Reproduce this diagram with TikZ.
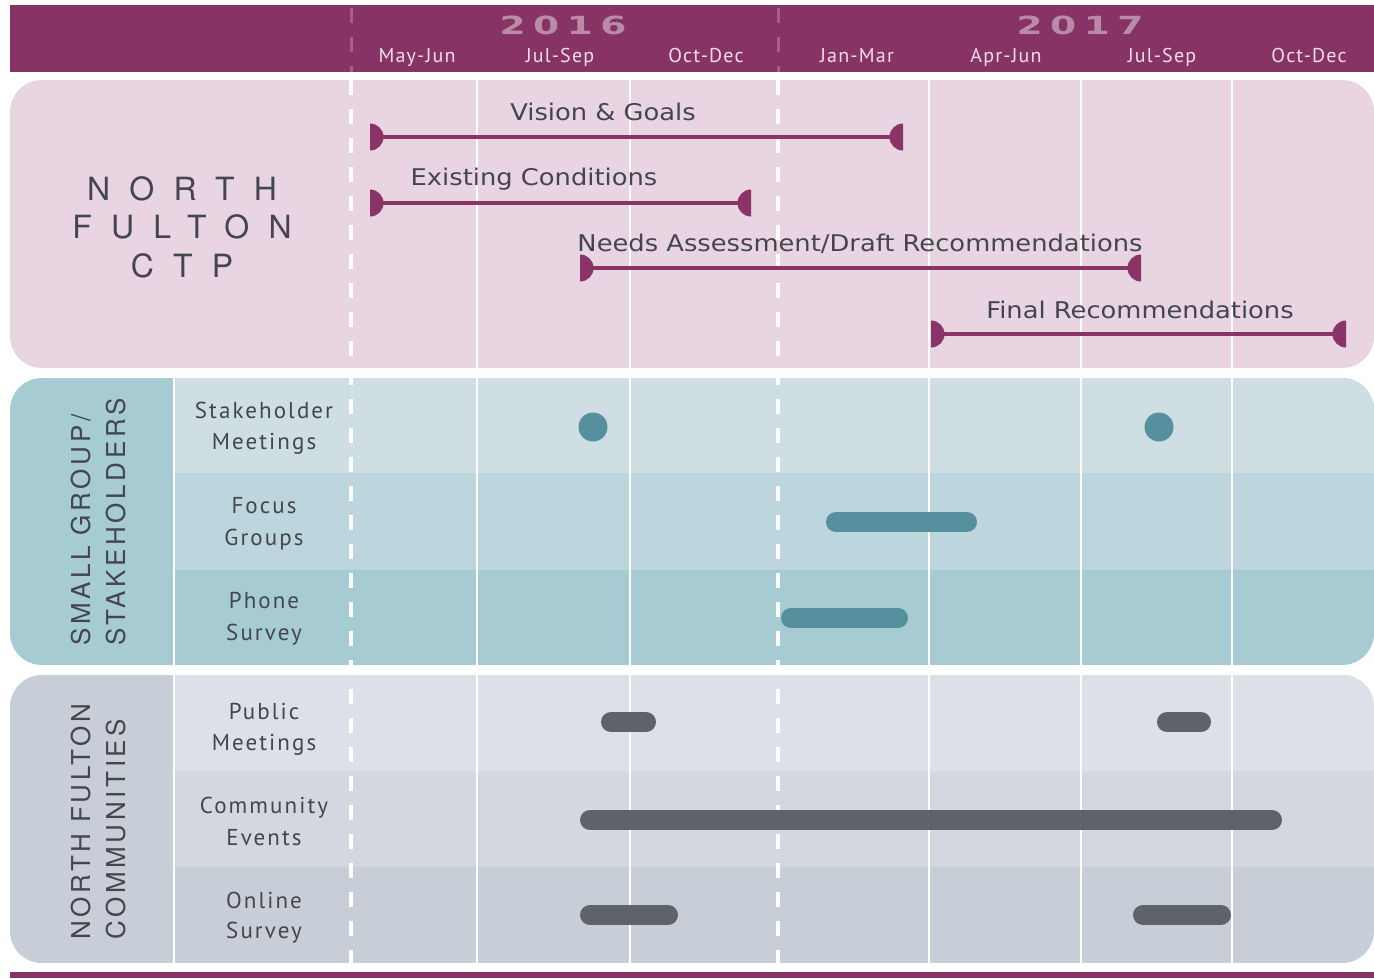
\documentclass[tikz,border=0pt]{standalone}
\usepackage{fontspec}
\setmainfont{TeX Gyre Heros}
\newfontfamily\widefont[FakeStretch=1.12]{DejaVu Sans}
\newfontfamily\condfont[LetterSpace=9]{PT Sans}
\newfontfamily\spacedfont[LetterSpace=60]{TeX Gyre Heros}
\newfontfamily\rotfont[LetterSpace=14]{TeX Gyre Heros}
\newfontfamily\yearfont[FakeStretch=1.5,LetterSpace=30]{DejaVu Sans}
\newfontfamily\monthfont[LetterSpace=6]{PT Sans}
\definecolor{header}{HTML}{873366}
\definecolor{yeartxt}{HTML}{B98BA6}
\definecolor{monthtxt}{HTML}{F0DDE8}
\definecolor{hdash}{HTML}{A66088}
\definecolor{pinkbg}{HTML}{E8D5E1}
\definecolor{tealA}{HTML}{CFDEE3}
\definecolor{tealB}{HTML}{BDD5DC}
\definecolor{tealC}{HTML}{A6CBD3}
\definecolor{tealbar}{HTML}{568F9D}
\definecolor{grayA}{HTML}{DDE0E8}
\definecolor{grayB}{HTML}{D3D7DF}
\definecolor{grayC}{HTML}{C8CED7}
\definecolor{graybar}{HTML}{5E626A}
\definecolor{txt}{HTML}{43464E}
\definecolor{gcol}{HTML}{8A3367}
\tikzset{
  gline/.style={draw=gcol,line width=4},
  glabel/.style={anchor=base,inner sep=0,text=txt,font=\widefont\fontsize{23}{23}\selectfont},
  rowlabel/.style={anchor=base,inner sep=0,text=txt,font=\condfont\fontsize{23}{23}\selectfont},
  monthlabel/.style={anchor=base,inner sep=0,text=monthtxt,font=\monthfont\fontsize{20}{20}\selectfont},
  yearlabel/.style={anchor=base,inner sep=0,text=yeartxt,font=\yearfont\bfseries\fontsize{25}{25}\selectfont},
  ctplabel/.style={anchor=base,inner sep=0,text=txt,font=\spacedfont\fontsize{32}{32}\selectfont},
  rotlabel/.style={anchor=base west,inner sep=0,rotate=90,text=txt,font=\rotfont\fontsize{26}{26}\selectfont},
  tbar/.style={draw=tealbar,line width=20,line cap=round},
  gbar/.style={draw=graybar,line width=20,line cap=round},
  thinsep/.style={draw=white,line width=1.6},
  bigdash/.style={draw=white,line width=4,dash pattern=on 15 off 14},
}
\newcommand\ganttbar[3]{%
  \draw[gline] (#1,#3) -- (#2,#3);
  \fill[gcol] (#1,#3+13.5) arc[start angle=90,end angle=-90,radius=13.5] -- cycle;
  \fill[gcol] (#2,#3+13.5) arc[start angle=90,end angle=270,radius=13.5] -- cycle;
}
\begin{document}
\begin{tikzpicture}[x=1pt,y=-1pt]
\useasboundingbox (0,0) rectangle (1374,978);
\fill[white] (0,0) rectangle (1374,978);
% header
\fill[header] (10,5) rectangle (1374,72);
\fill[header] (10,972) rectangle (1374,978);
\draw[draw=hdash,line width=3,dash pattern=on 15 off 14] (351,8) -- (351,72);
\draw[draw=hdash,line width=3,dash pattern=on 15 off 14] (778,8) -- (778,72);
\node[yearlabel] (y16) at (563,34) {2016};
\node[yearlabel] (y17) at (1080,34) {2017};
\node[monthlabel] (m1) at (417,62) {May-Jun};
\node[monthlabel] (m2) at (560,62) {Jul-Sep};
\node[monthlabel] (m3) at (706,62) {Oct-Dec};
\node[monthlabel] (m4) at (857,62) {Jan-Mar};
\node[monthlabel] (m5) at (1006,62) {Apr-Jun};
\node[monthlabel] (m6) at (1162,62) {Jul-Sep};
\node[monthlabel] (m7) at (1309,62) {Oct-Dec};
% pink panel
\fill[pinkbg,rounded corners=32] (10,80) rectangle (1374,368);
% teal panel
\begin{scope}
  \clip[rounded corners=32] (10,378) rectangle (1374,665);
  \fill[tealC] (10,378) rectangle (1374,665);
  \fill[tealA] (174,378) rectangle (1374,473);
  \fill[tealB] (174,473) rectangle (1374,570);
\end{scope}
% gray panel
\begin{scope}
  \clip[rounded corners=32] (10,675) rectangle (1374,963);
  \fill[grayC] (10,675) rectangle (1374,963);
  \fill[grayA] (174,675) rectangle (1374,771);
  \fill[grayB] (174,771) rectangle (1374,867);
\end{scope}
% separators
\draw[draw=white,line width=2.2] (174,378) -- (174,963);
\foreach \xx in {477,630,929,1081,1232} \draw[thinsep] (\xx,80) -- (\xx,963);
\draw[bigdash] (351,80) -- (351,963);
\draw[bigdash] (778,80) -- (778,963);
% titles
\node[ctplabel] (t1) at (182,200) {NORTH};
\node[ctplabel] (t2) at (182,238) {FULTON};
\node[ctplabel] (t3) at (182,277) {CTP};
\node[rotlabel] (s1) at (90,646) {SMALL GROUP/};
\node[rotlabel] (s2) at (125,646) {STAKEHOLDERS};
\node[rotlabel] (c1) at (90,940) {NORTH FULTON};
\node[rotlabel] (c2) at (125,940) {COMMUNITIES};
% row labels
\node[rowlabel] (r1a) at (264,418) {Stakeholder};
\node[rowlabel] (r1b) at (264,449) {Meetings};
\node[rowlabel] (r2a) at (264,513) {Focus};
\node[rowlabel] (r2b) at (264,545) {Groups};
\node[rowlabel] (r3a) at (264,608) {Phone};
\node[rowlabel] (r3b) at (264,640) {Survey};
\node[rowlabel] (r4a) at (264,719) {Public};
\node[rowlabel] (r4b) at (264,750) {Meetings};
\node[rowlabel] (r5a) at (264,813) {Community};
\node[rowlabel] (r5b) at (264,845) {Events};
\node[rowlabel] (r6a) at (264,908) {Online};
\node[rowlabel] (r6b) at (264,938) {Survey};
% gantt bars
\node[glabel] (g1) at (603,120) {Vision \& Goals};
\ganttbar{370}{903}{137}
\node[glabel] (g2) at (534,185) {Existing Conditions};
\ganttbar{370}{751}{203}
\node[glabel] (g3) at (860,251) {Needs Assessment/Draft Recommendations};
\ganttbar{580}{1141}{268}
\node[glabel] (g4) at (1140,318) {Final Recommendations};
\ganttbar{931}{1346}{334}
% teal activities
\fill[tealbar] (593,427) circle[radius=14.5];
\fill[tealbar] (1159,427) circle[radius=14.5];
\draw[tbar] (836,522) -- (967,522);
\draw[tbar] (791,618) -- (898,618);
% gray activities
\draw[gbar] (611,722) -- (646,722);
\draw[gbar] (1167,722) -- (1201,722);
\draw[gbar] (590,820) -- (1272,820);
\draw[gbar] (590,915) -- (668,915);
\draw[gbar] (1143,915) -- (1221,915);
\end{tikzpicture}
\end{document}
